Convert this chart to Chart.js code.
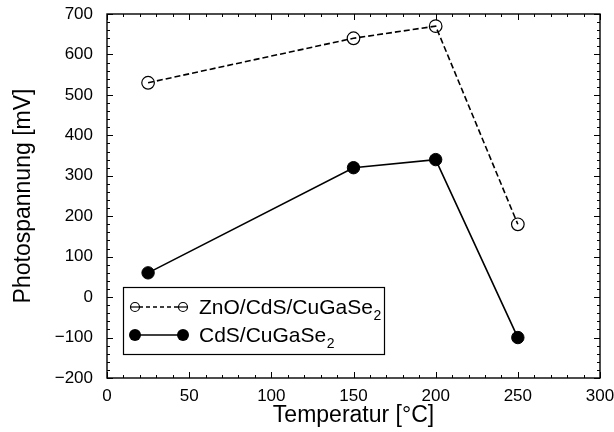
<!DOCTYPE html>
<html><head><meta charset="utf-8">
<script src="https://cdn.jsdelivr.net/npm/chart.js@4"></script>
<style>html,body{margin:0;padding:0;background:#fff}</style>
</head><body>
<canvas id="c" width="614" height="432"></canvas>
<script>
// ---- data ----
const temps = [25, 150, 200, 250];
const znoCdsCgs = [530, 640, 670, 180];
const cdsCgs = [60, 320, 340, -100];
const seriesNames = ['ZnO/CdS/CuGaSe', 'CdS/CuGaSe'];
const seriesSub = ['2', '2'];
const xTitle = 'Temperatur [°C]';
const yTitle = 'Photospannung [mV]';
const xRange = [0, 300];
const yRange = [-200, 700];

const FAMILY = "'Liberation Sans', Arial, Helvetica, sans-serif";

const framePlugin = {
  id: 'frame',
  afterDraw(chart) {
    const {ctx, chartArea: a, scales: {x, y}} = chart;
    ctx.save();
    ctx.strokeStyle = '#000';
    ctx.lineWidth = 1;
    ctx.beginPath();
    for (let v = xRange[0]; v <= xRange[1]; v += 10) {
      const px = Math.round(x.getPixelForValue(v)) + 0.5;
      const L = (v % 50 === 0) ? 6 : 3;
      ctx.moveTo(px, a.bottom); ctx.lineTo(px, a.bottom - L);
      ctx.moveTo(px, a.top); ctx.lineTo(px, a.top + L);
    }
    for (let v = yRange[0]; v <= yRange[1]; v += 20) {
      const py = Math.round(y.getPixelForValue(v)) + 0.5;
      const L = (v % 100 === 0) ? 6 : 3;
      ctx.moveTo(a.left, py); ctx.lineTo(a.left + L, py);
      ctx.moveTo(a.right, py); ctx.lineTo(a.right - L, py);
    }
    ctx.stroke();
    ctx.lineWidth = 1.4;
    ctx.strokeRect(a.left, a.top, a.right - a.left, a.bottom - a.top);
    ctx.restore();
  }
};

const legendPlugin = {
  id: 'customLegend',
  afterDraw(chart) {
    const ctx = chart.ctx;
    ctx.save();
    ctx.strokeStyle = '#000';
    ctx.fillStyle = '#fff';
    ctx.lineWidth = 1.2;
    ctx.fillRect(123, 287, 261, 67);
    ctx.strokeRect(123.5, 287.5, 261, 67);
    const rows = [307, 335];
    const x0 = 135, x1 = 183;
    // row 1 : dashed with small open circles
    ctx.lineWidth = 1.4;
    ctx.setLineDash([4, 3]);
    ctx.beginPath(); ctx.moveTo(x0 + 4, rows[0]); ctx.lineTo(x1 - 4, rows[0]); ctx.stroke();
    ctx.setLineDash([]);
    ctx.lineWidth = 1.2;
    [x0, x1].forEach(px => {
      ctx.beginPath(); ctx.arc(px, rows[0], 4.5, 0, Math.PI * 2); ctx.stroke();
      ctx.beginPath(); ctx.moveTo(px - 4.5, rows[0]); ctx.lineTo(px + 4.5, rows[0]); ctx.stroke();
    });
    // row 2 : solid with filled circles
    ctx.lineWidth = 1.6;
    ctx.beginPath(); ctx.moveTo(x0, rows[1]); ctx.lineTo(x1, rows[1]); ctx.stroke();
    ctx.fillStyle = '#000';
    [x0, x1].forEach(px => { ctx.beginPath(); ctx.arc(px, rows[1], 6, 0, Math.PI * 2); ctx.fill(); });
    // text
    ctx.fillStyle = '#000';
    ctx.textBaseline = 'middle';
    ctx.textAlign = 'left';
    seriesNames.forEach((name, i) => {
      ctx.font = '21px ' + FAMILY;
      ctx.fillText(name, 199, rows[i] + 1);
      const w = ctx.measureText(name).width;
      ctx.font = '14px ' + FAMILY;
      ctx.fillText(seriesSub[i], 199 + w + 0.5, rows[i] + 9);
    });
    ctx.restore();
  }
};

new Chart(document.getElementById('c'), {
  type: 'line',
  data: {
    datasets: [
      {
        label: seriesNames[0] + seriesSub[0],
        data: temps.map((t, i) => ({x: t, y: znoCdsCgs[i]})),
        borderColor: '#000', borderWidth: 1.6, borderDash: [6, 3],
        pointRadius: 6.3, pointBackgroundColor: 'rgba(0,0,0,0)',
        pointBorderColor: '#000', pointBorderWidth: 1.2,
        tension: 0, fill: false
      },
      {
        label: seriesNames[1] + seriesSub[1],
        data: temps.map((t, i) => ({x: t, y: cdsCgs[i]})),
        borderColor: '#000', borderWidth: 1.6,
        pointRadius: 6.2, pointBackgroundColor: '#000',
        pointBorderColor: '#000', pointBorderWidth: 1,
        tension: 0, fill: false
      }
    ]
  },
  options: {
    responsive: false,
    animation: false,
    layout: {padding: {left: 0, right: 14, top: 14, bottom: 0}},
    plugins: {legend: {display: false}, tooltip: {enabled: false}},
    scales: {
      x: {
        type: 'linear', min: xRange[0], max: xRange[1],
        grid: {display: false, drawTicks: false},
        border: {display: false},
        ticks: {stepSize: 50, padding: 8, color: '#000', maxRotation: 0, autoSkip: false,
                font: {size: 17, family: FAMILY}},
        title: {display: true, text: xTitle, color: '#000',
                font: {size: 23, family: FAMILY}, padding: {top: 0, bottom: 3}},
        afterFit(s) { s.height = 54; s.paddingLeft = 0; s.paddingRight = 0; }
      },
      y: {
        type: 'linear', min: yRange[0], max: yRange[1],
        grid: {display: false, drawTicks: false},
        border: {display: false},
        ticks: {stepSize: 100, padding: 14, color: '#000', autoSkip: false,
                font: {size: 17, family: FAMILY},
                callback: v => String(v).replace('-', '\u2212')},
        title: {display: true, text: yTitle, color: '#000',
                font: {size: 23, family: FAMILY}, padding: {top: 10, bottom: 0}},
        afterFit(s) { s.width = 107; s.paddingTop = 0; s.paddingBottom = 0; }
      }
    }
  },
  plugins: [framePlugin, legendPlugin]
});
</script>
</body></html>
